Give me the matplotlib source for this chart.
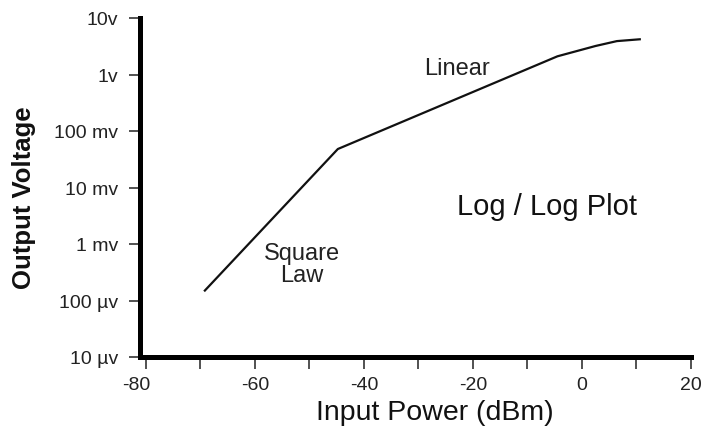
import matplotlib
matplotlib.use("Agg")
import matplotlib.pyplot as plt
from matplotlib.transforms import ScaledTranslation

plt.rcParams['font.family'] = ['Liberation Sans', 'DejaVu Sans']

# Data
power_dbm = [-69.2, -44.8, -4.5, 2.5, 6.4, 10.6]
voltage_v = [1.5e-4, 0.048, 2.1, 3.2, 3.9, 4.2]

y_ticks = [1e-5, 1e-4, 1e-3, 1e-2, 1e-1, 1, 10]
y_labels = ['10 µv', '100 µv', '1 mv', '10 mv', '100 mv', '1v', '10v']
x_major = [-80, -60, -40, -20, 0, 20]
x_minor = [-70, -50, -30, -10, 10]

W, H = 708, 427
fig = plt.figure(figsize=(W / 100, H / 100), dpi=100)
ax = fig.add_axes([140 / W, 1 - 358 / H, (691 - 140) / W, (358 - 19) / H])

ax.plot(power_dbm, voltage_v, color='#111111', lw=1.6, solid_joinstyle='round')

ax.set_yscale('log')
ax.set_ylim(1e-5, 10)
ax.set_xlim(-81.1, 20)

ax.set_yticks(y_ticks)
ax.set_yticklabels(y_labels)
ax.yaxis.set_minor_locator(matplotlib.ticker.NullLocator())
ax.set_xticks(x_major)
ax.set_xticklabels([str(v) for v in x_major])
ax.set_xticks(x_minor, minor=True)

for s in ['top', 'right']:
    ax.spines[s].set_visible(False)
for s in ['left', 'bottom']:
    ax.spines[s].set_linewidth(3.6)
    ax.spines[s].set_color('#000000')
    ax.spines[s].set_capstyle('projecting')

ax.tick_params(axis='y', which='major', direction='out', length=8, width=1.1,
               pad=8, labelsize=14, labelcolor='#222222', color='#222222')
ax.tick_params(axis='x', which='both', direction='out', length=8.5, width=1.1,
               pad=5.5, labelsize=14, labelcolor='#222222', color='#222222')

fig.canvas.draw()
lab0 = ax.get_xticklabels()[0]
lab0.set_transform(lab0.get_transform() + ScaledTranslation(-0.1, 0, fig.dpi_scale_trans))

fig.text(435 / W, 1 - 413 / H, 'Input Power (dBm)', ha='center', va='center',
         fontsize=20.5, color='#111111')
fig.text(24 / W, 1 - 198 / H, 'Output Voltage', ha='center', va='center',
         rotation=90, fontsize=18.5, fontweight='bold', color='#111111')

fig.text(457 / W, 1 - 69 / H, 'Linear', ha='center', va='center',
         fontsize=17, color='#222222')
fig.text(302 / W, 1 - 265 / H, 'Square\nLaw', ha='center', va='center',
         fontsize=17, color='#222222', linespacing=1.0)
fig.text(547 / W, 1 - 207 / H, 'Log / Log Plot', ha='center', va='center',
         fontsize=21, color='#111111')

fig.savefig('out.png', dpi=100)
